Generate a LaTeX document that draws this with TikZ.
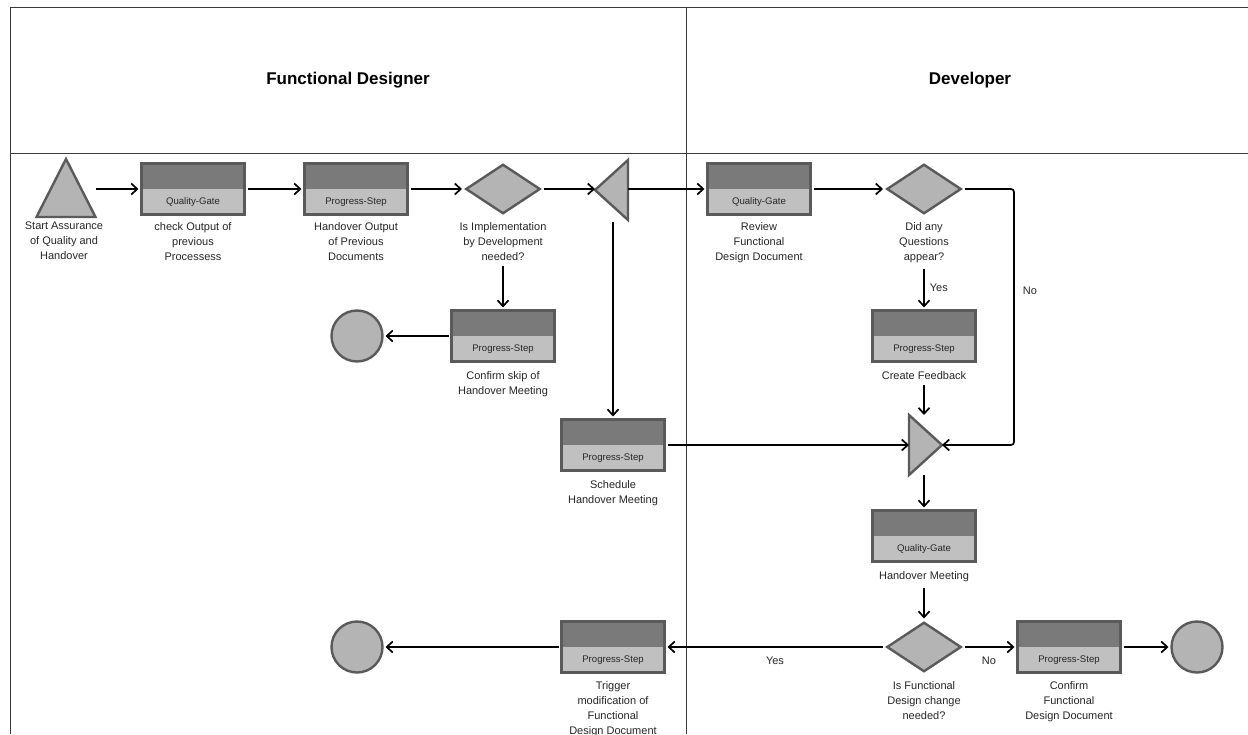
\documentclass[tikz,border=0pt]{standalone}
\usepackage{fontspec}
\setmainfont{Liberation Sans}
\usetikzlibrary{shapes.geometric,arrows.meta,calc}

\definecolor{rim}{HTML}{5A5A5A}
\definecolor{topband}{HTML}{7A7A7A}
\definecolor{lowband}{HTML}{C0C0C0}
\definecolor{shapefill}{HTML}{B4B4B4}
\definecolor{frame}{HTML}{3A3A3A}

\tikzset{
  stepbox/.style={rectangle, minimum width=103pt, minimum height=51pt, inner sep=0pt,
    fill=lowband, draw=rim, line width=2.8pt, outer sep=3pt,
    path picture={\fill[topband] (path picture bounding box.north west) rectangle (path picture bounding box.east);}},
  tag/.style={font=\fontsize{9.6}{11}\selectfont, text=black!85, inner sep=0pt},
  decision/.style={diamond, minimum width=76pt, minimum height=51pt, inner sep=0pt,
    fill=shapefill, draw=rim, line width=2.4pt, outer sep=3pt},
  endpoint/.style={circle, minimum size=51pt, inner sep=0pt,
    fill=shapefill, draw=rim, line width=2.4pt, outer sep=3pt},
  slot/.style={rectangle, inner sep=0pt, outer sep=3pt},
  tri/.style={fill=shapefill, draw=rim, line width=2.4pt, line join=miter},
  caption/.style={font=\fontsize{11}{15}\selectfont, align=center, anchor=north, inner sep=0pt, text=black!85},
  lane/.style={font=\bfseries\fontsize{17}{20}\selectfont},
  flow/.style={line width=1.7pt, -{Straight Barb[length=6pt,width=11pt,line width=1.7pt]}},
  note/.style={font=\fontsize{11}{13}\selectfont, inner sep=0pt, text=black!85},
}

\begin{document}
\begin{tikzpicture}[x=1pt,y=-1pt]
\useasboundingbox (0,0) rectangle (1248,734);

% swimlane frame
\draw[frame, line width=1pt] (10,734) -- (10,7) -- (1248,7);
\draw[frame, line width=1pt] (10,153) -- (1248,153);
\draw[frame, line width=1pt] (686,7) -- (686,734);
\node[lane] (laneFD) at (348,80) {Functional Designer};
\node[lane] (laneDev) at (970,80) {Developer};

% ---- Functional Designer lane ----
\node[slot, minimum width=53pt, minimum height=52pt] (start) at (66,188) {};
\draw[tri] (start.south west) -- (start.north) -- (start.south east) -- cycle;
\node[caption] (cStart) at (64,222) {Start Assurance\\of Quality and\\Handover};

\node[stepbox] (qg1) at (193,189) {};
\node[tag] (tqg1) at ([yshift=-13pt]qg1.center) {Quality-Gate};
\node[caption] (cqg1) at (193,222) {check Output of\\previous\\Processess};

\node[stepbox] (ps1) at (356,189) {};
\node[tag] (tps1) at ([yshift=-13pt]ps1.center) {Progress-Step};
\node[caption] (cps1) at (356,222) {Handover Output\\of Previous\\Documents};

\node[decision] (d1) at (503,189) {};
\node[caption] (cd1) at (503,222) {Is Implementation\\by Development\\needed?};

\node[slot, minimum width=27pt, minimum height=54pt] (split) at (611.5,190) {};
\draw[tri] (split.north east) -- (split.west) -- (split.south east) -- cycle;

\node[stepbox] (ps2) at (503,336) {};
\node[tag] (tps2) at ([yshift=-13pt]ps2.center) {Progress-Step};
\node[caption] (cps2) at (503,371) {Confirm skip of\\Handover Meeting};

\node[endpoint] (end1) at (357,336) {};

\node[stepbox] (ps3) at (613,445) {};
\node[tag] (tps3) at ([yshift=-13pt]ps3.center) {Progress-Step};
\node[caption] (cps3) at (613,480) {Schedule\\Handover Meeting};

\node[stepbox] (ps4) at (613,647) {};
\node[tag] (tps4) at ([yshift=-13pt]ps4.center) {Progress-Step};
\node[caption] (cps4) at (613,681) {Trigger\\modification of\\Functional\\Design Document};

\node[endpoint] (end2) at (357,647) {};

% ---- Developer lane ----
\node[stepbox] (qg2) at (759,189) {};
\node[tag] (tqg2) at ([yshift=-13pt]qg2.center) {Quality-Gate};
\node[caption] (cqg2) at (759,222) {Review\\Functional\\Design Document};

\node[decision] (d2) at (924,189) {};
\node[caption] (cd2) at (924,222) {Did any\\Questions\\appear?};

\node[stepbox] (ps5) at (924,336) {};
\node[tag] (tps5) at ([yshift=-13pt]ps5.center) {Progress-Step};
\node[caption] (cps5) at (924,371) {Create Feedback};

\node[slot, minimum width=27pt, minimum height=54pt] (join) at (925.5,445) {};
\draw[tri] (join.north west) -- (join.east) -- (join.south west) -- cycle;

\node[stepbox] (qg3) at (924,536) {};
\node[tag] (tqg3) at ([yshift=-13pt]qg3.center) {Quality-Gate};
\node[caption] (cqg3) at (924,571) {Handover Meeting};

\node[decision] (d3) at (924,647) {};
\node[caption] (cd3) at (924,681) {Is Functional\\Design change\\needed?};

\node[stepbox] (ps6) at (1069,647) {};
\node[tag] (tps6) at ([yshift=-13pt]ps6.center) {Progress-Step};
\node[caption] (cps6) at (1069,681) {Confirm\\Functional\\Design Document};

\node[endpoint] (end3) at (1197,647) {};

% ---- connectors ----
\draw[flow] (start.east |- qg1.west) -- (qg1.west);
\draw[flow] (qg1.east) -- (ps1.west);
\draw[flow] (ps1.east) -- (d1.west);
\draw[flow] (d1.east) -- (split.west |- d1.east);
\draw[flow] (split.east |- qg2.west) -- (qg2.west);
\draw[flow] (qg2.east) -- (d2.west);
\draw[flow] ($(ps2.north |- cd1.south)+(0,6)$) -- (ps2.north);
\draw[flow] (ps2.west) -- (end1.east);
\draw[flow] ($(ps3.north |- split.south)+(0,2)$) -- (ps3.north);
\draw[flow] (ps3.east) -- (join.west |- ps3.east);
\draw[flow] ($(ps5.north |- cd2.south)+(0,6)$) -- (ps5.north) node[note, midway, right=5pt] (yes1) {Yes};
\draw[flow] ($(join.north -| cps5.south)+(0,-30)$) -- (join.north -| cps5.south);
\draw[flow, rounded corners=3pt] (d2.east) -- (1014,189) -- (1014,445) -- (join.east);
\node[note] (no1) at (1030,291) {No};
\draw[flow] (join.south -| qg3.north) -- (qg3.north);
\draw[flow] ($(d3.north |- cqg3.south)+(0,6)$) -- (d3.north);
\draw[flow] (d3.east) -- (ps6.west);
\node[note] (no2) at (989,661) {No};
\draw[flow] (ps6.east) -- (end3.west);
\draw[flow] (d3.west) -- (ps4.east);
\node[note] (yes2) at (775,661) {Yes};
\draw[flow] (ps4.west) -- (end2.east);
\end{tikzpicture}
\end{document}
